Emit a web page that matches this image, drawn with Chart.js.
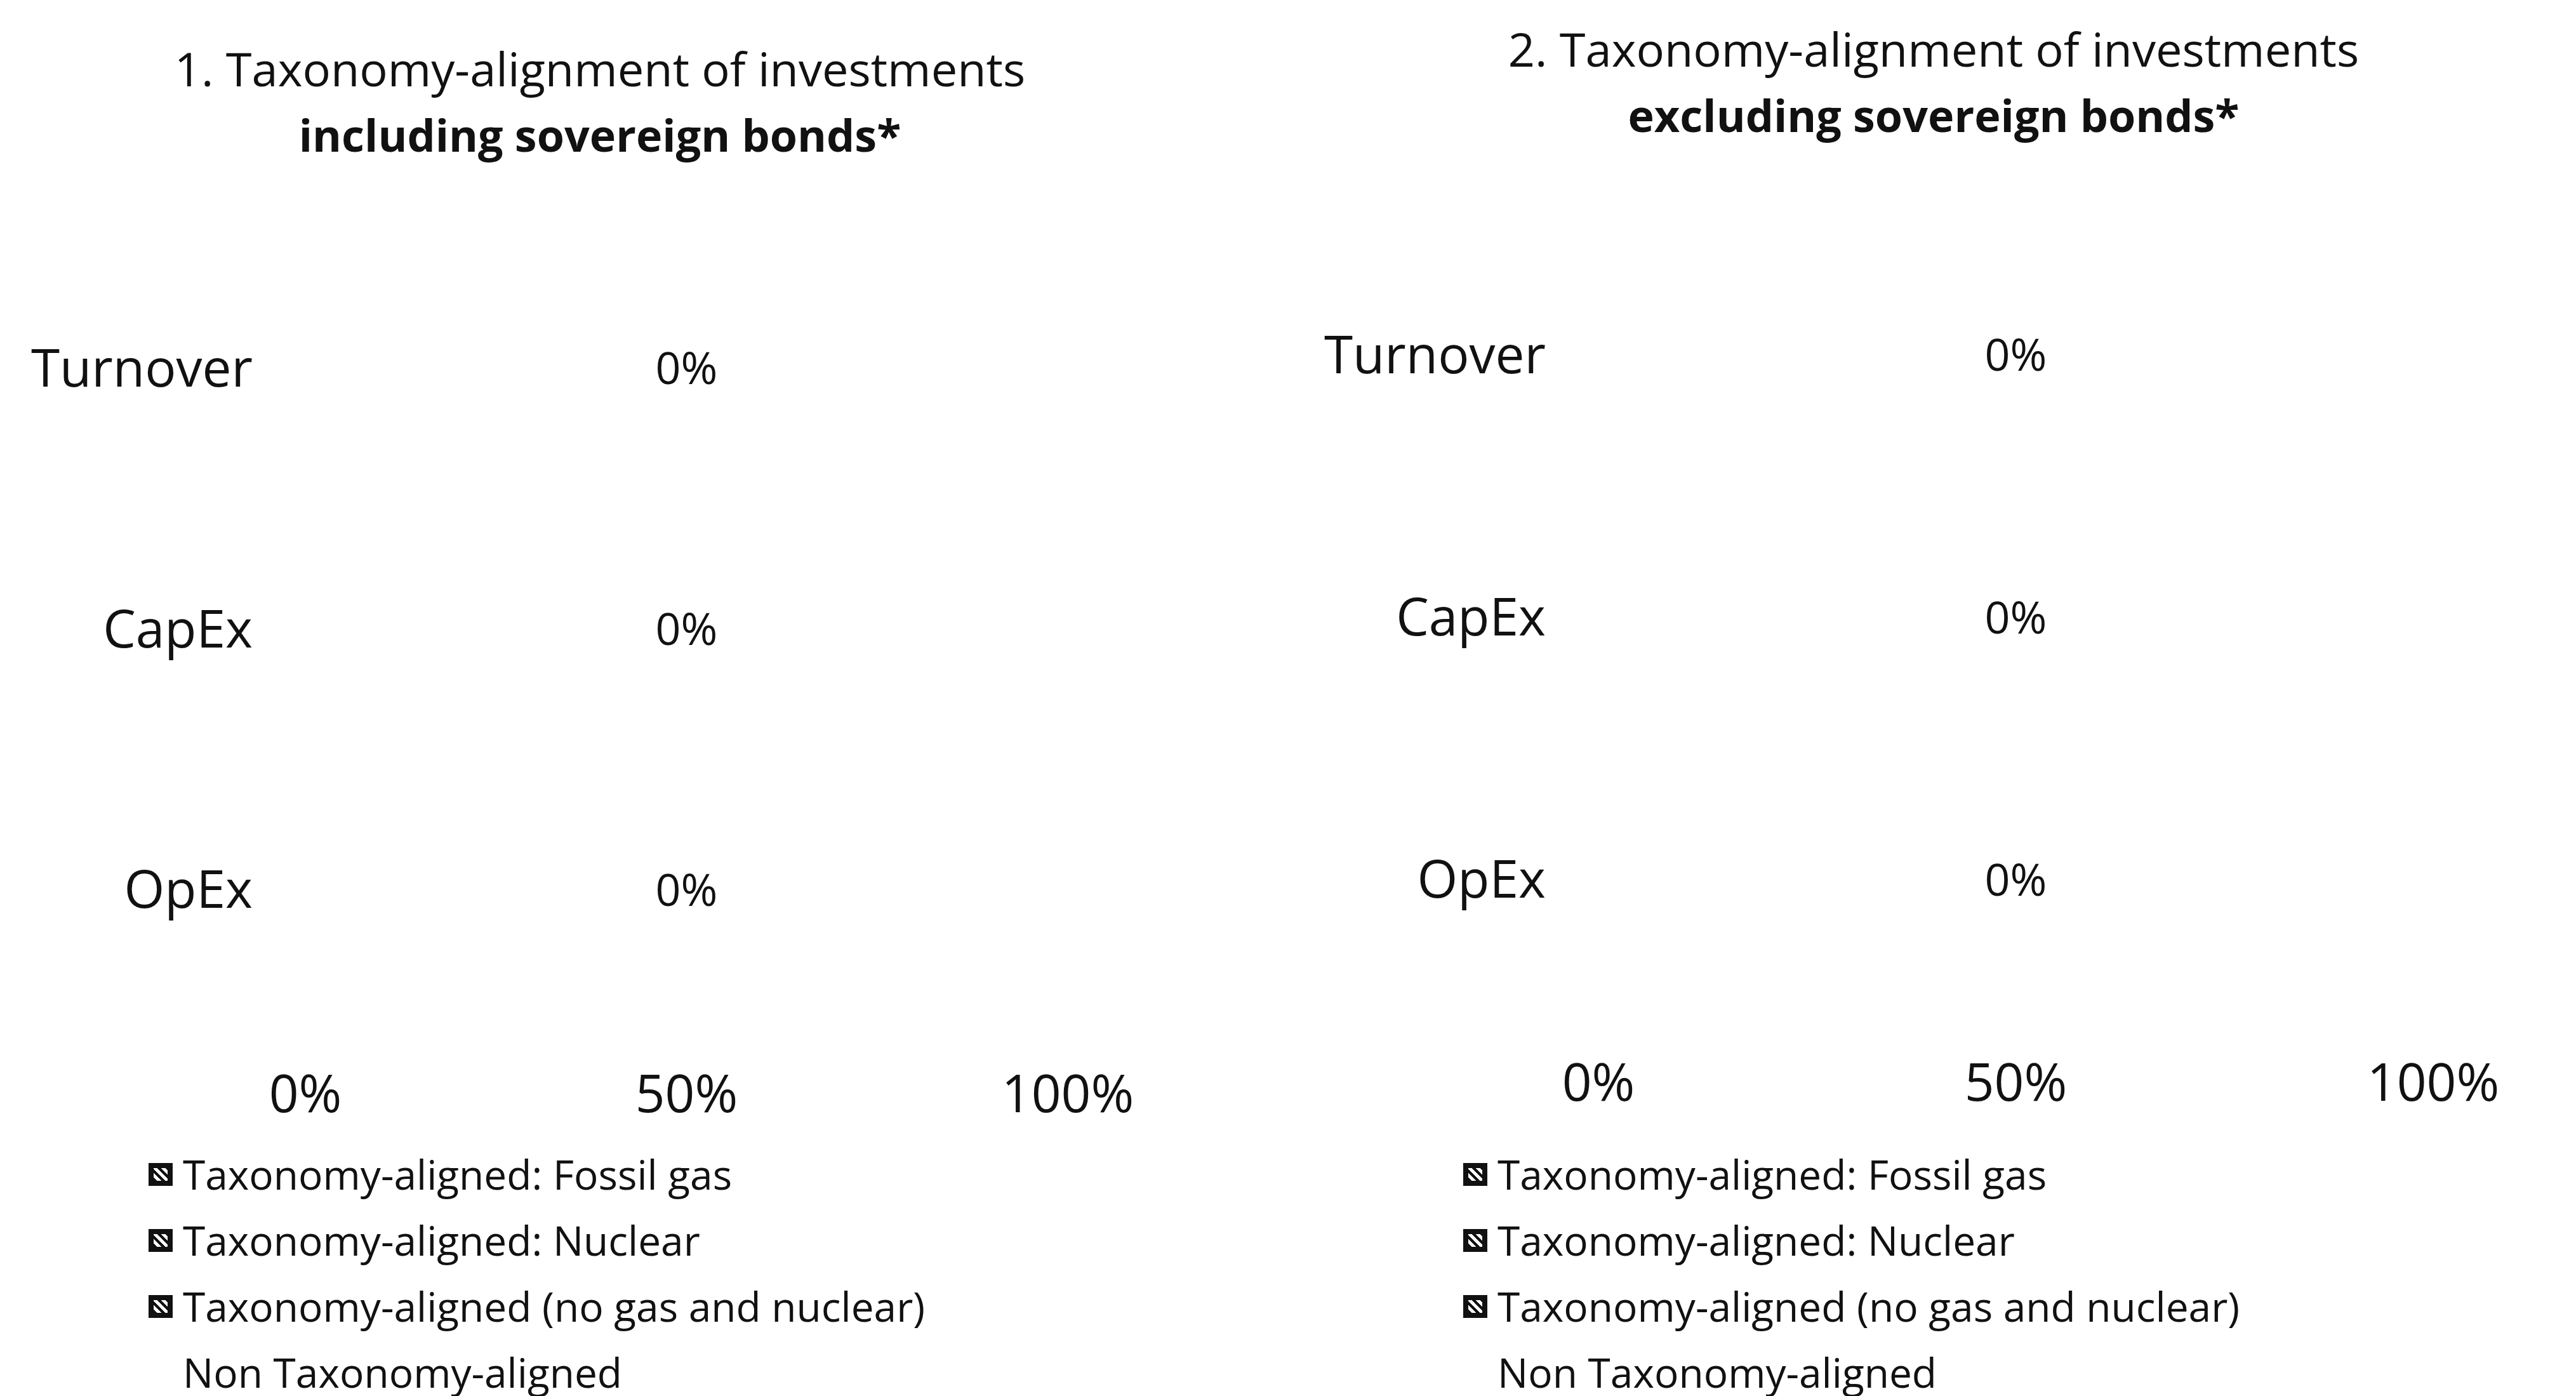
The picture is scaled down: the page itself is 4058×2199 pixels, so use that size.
<!DOCTYPE html>
<html>
<head>
<meta charset="utf-8">
<title>Taxonomy-alignment of investments</title>
<script src="https://cdn.jsdelivr.net/npm/chart.js@4.4.1/dist/chart.umd.min.js"></script>
<style>
  html, body { margin: 0; padding: 0; background: #fff; }
  body { width: 4058px; height: 2199px; overflow: hidden; position: relative; font-family: 'Open Sans', sans-serif; color: #111; }
  .panel { position: absolute; top: 0; }
  .legend { position: absolute; top: 1798px; margin: 0; padding: 0; list-style: none; font-size: 64px; line-height: 104px; white-space: nowrap; }
  .legend li { display: flex; align-items: center; }
  .legend .box { display: inline-block; width: 22px; height: 20px; border: 8px solid; margin-right: 16px; box-sizing: content-box; }
</style>
</head>
<body>
<div class="panel" style="left:0;width:1890px;height:1837px"><canvas id="incl"></canvas></div>
<ul class="legend" id="leg1" style="left:234px"></ul>
<div class="panel" style="left:2040px;width:2012px;height:1816px"><canvas id="excl"></canvas></div>
<ul class="legend" id="leg2" style="left:2305px"></ul>
<script>
const categories = ['Turnover', 'CapEx', 'OpEx'];
const seriesLabels = [
  'Taxonomy-aligned: Fossil gas',
  'Taxonomy-aligned: Nuclear',
  'Taxonomy-aligned (no gas and nuclear)',
  'Non Taxonomy-aligned'
];
const xTickValues = [0, 50, 100];

// chart 1: including sovereign bonds
const inclFossilGas = [0, 0, 0];
const inclNuclear = [0, 0, 0];
const inclAligned = [0, 0, 0];
const inclNonAligned = [100, 100, 100];

// chart 2: excluding sovereign bonds
const exclFossilGas = [0, 0, 0];
const exclNuclear = [0, 0, 0];
const exclAligned = [0, 0, 0];
const exclNonAligned = [100, 100, 100];

const FONT = "'Open Sans', sans-serif";
const INK = '#111';

// label in the middle of each stack: share that is taxonomy-aligned
const alignedLabels = {
  id: 'alignedLabels',
  afterDatasetsDraw(chart) {
    const { ctx, scales } = chart;
    const ds = chart.data.datasets;
    const meta = chart.getDatasetMeta(ds.length - 1);
    ctx.save();
    ctx.font = `70px ${FONT}`;
    ctx.fillStyle = INK;
    ctx.textAlign = 'center';
    ctx.textBaseline = 'middle';
    categories.forEach((c, i) => {
      const total = ds.reduce((s, d) => s + d.data[i], 0);
      const aligned = ds.slice(0, 3).reduce((s, d) => s + d.data[i], 0);
      const x = scales.x.getPixelForValue(total / 2);
      ctx.fillText(`${Math.round(aligned)}%`, x, meta.data[i].y);
    });
    ctx.restore();
  }
};

function buildChart(id, lines, series, geo) {
  const boxColors = [INK, INK, INK, '#fff'];
  return new Chart(document.getElementById(id), {
    type: 'bar',
    data: {
      labels: categories,
      datasets: series.map((data, i) => ({
        label: seriesLabels[i],
        data,
        backgroundColor: '#fff',
        borderColor: boxColors[i],
        borderWidth: 0,
        barPercentage: 0.5
      }))
    },
    options: {
      indexAxis: 'y',
      responsive: true,
      maintainAspectRatio: false,
      animation: false,
      layout: { padding: 0 },
      plugins: {
        legend: { display: false },
        tooltip: { enabled: false },
        title: {
          display: true,
          text: lines[0],
          color: INK,
          font: { family: FONT, size: 74, weight: 'normal', lineHeight: 1.2 },
          padding: { top: geo.titleTop, bottom: 17 }
        },
        subtitle: {
          display: true,
          text: lines[1],
          color: INK,
          font: { family: FONT, size: 70, weight: 'bold', lineHeight: 1.2 },
          padding: { top: 0, bottom: geo.subBottom }
        }
      },
      scales: {
        x: {
          stacked: true,
          min: 0,
          max: 100,
          grid: { display: false },
          border: { display: false },
          afterBuildTicks: (s) => { s.ticks = xTickValues.map((v) => ({ value: v })); },
          ticks: {
            padding: geo.tickPad,
            color: INK,
            font: { family: FONT, size: 82 },
            callback: (v) => `${v}%`
          }
        },
        y: {
          stacked: true,
          grid: { display: false },
          border: { display: false },
          afterFit: (s) => { s.width = geo.axisWidth; },
          ticks: { padding: 75, color: INK, font: { family: FONT, size: 82 } }
        },
        // empty margin on the right so the titles stay centred on the panel
        gap: {
          type: 'linear',
          position: 'right',
          grid: { display: false },
          border: { display: false },
          ticks: { display: false },
          afterFit: (s) => { s.width = geo.right; }
        }
      }
    },
    plugins: [alignedLabels]
  });
}

function buildLegend(chart, listId) {
  const list = document.getElementById(listId);
  list.innerHTML = '';
  chart.data.datasets.forEach((d) => {
    const fill = d.borderColor === '#fff' ? '#fff' : `repeating-linear-gradient(45deg, ${INK} 0 4px, #fff 4px 9px)`;
    list.innerHTML += `<li><span class="box" style="border-color:${d.borderColor};background:${fill}"></span>${d.label}</li>`;
  });
}

const chartIncl = buildChart(
  'incl',
  ['1. Taxonomy-alignment of investments', 'including sovereign bonds*'],
  [inclFossilGas, inclNuclear, inclAligned, inclNonAligned],
  { right: 208, titleTop: 71, subBottom: 119, tickPad: 59, axisWidth: 481 }
);
buildLegend(chartIncl, 'leg1');

const chartExcl = buildChart(
  'excl',
  ['2. Taxonomy-alignment of investments', 'excluding sovereign bonds*'],
  [exclFossilGas, exclNuclear, exclAligned, exclNonAligned],
  { right: 219, titleTop: 40, subBottom: 128, tickPad: 56, axisWidth: 478 }
);
buildLegend(chartExcl, 'leg2');
</script>
</body>
</html>
